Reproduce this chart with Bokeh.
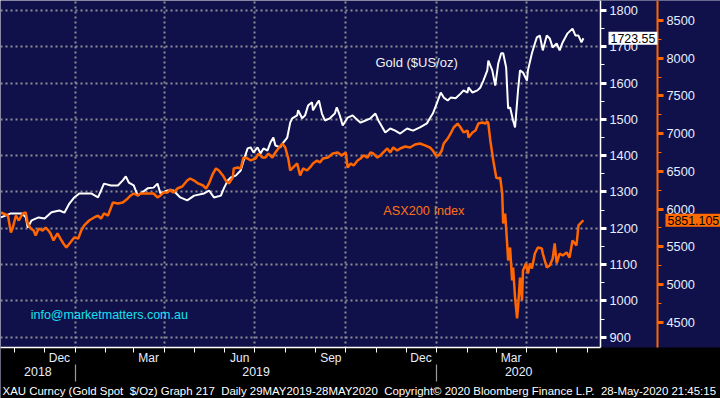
import pandas as pd
from bokeh.plotting import figure
from bokeh.models import (Range1d, LinearAxis, DatetimeAxis, FixedTicker, BoxAnnotation,
                          DatetimeTickFormatter, Grid, Label)
from bokeh.embed import file_html
from bokeh.resources import INLINE

# ---------------- data ----------------
gold_dates = ["2018-10-18","2018-10-28","2018-11-08","2018-11-12","2018-11-14","2018-11-18","2018-11-25","2018-12-01","2018-12-08","2018-12-16",
              "2018-12-21","2018-12-26","2018-12-31","2019-01-05","2019-01-17","2019-01-24","2019-01-30","2019-02-06","2019-02-13","2019-02-18",
              "2019-02-21","2019-02-24","2019-03-01","2019-03-05","2019-03-08","2019-03-15","2019-03-21","2019-03-25","2019-03-28","2019-04-04",
              "2019-04-10","2019-04-17","2019-04-24","2019-05-01","2019-05-11","2019-05-16","2019-05-21","2019-05-28","2019-05-31","2019-06-04",
              "2019-06-07","2019-06-12","2019-06-17","2019-06-20","2019-06-24","2019-06-27","2019-06-30","2019-07-04","2019-07-07","2019-07-10",
              "2019-07-14","2019-07-17","2019-07-20","2019-07-22","2019-07-27","2019-07-30","2019-08-03","2019-08-06","2019-08-08","2019-08-13",
              "2019-08-14","2019-08-18","2019-08-21","2019-08-24","2019-08-28","2019-08-29","2019-09-02","2019-09-04","2019-09-07","2019-09-10",
              "2019-09-15","2019-09-20","2019-09-22","2019-09-25","2019-09-28","2019-10-03","2019-10-08","2019-10-11","2019-10-16","2019-10-21",
              "2019-10-26","2019-10-31","2019-11-03","2019-11-07","2019-11-10","2019-11-15","2019-11-20","2019-11-25","2019-12-02","2019-12-08",
              "2019-12-15","2019-12-22","2019-12-25","2019-12-28","2020-01-01","2020-01-05","2020-01-08","2020-01-12","2020-01-15","2020-01-20",
              "2020-01-25","2020-01-28","2020-02-01","2020-02-02","2020-02-06","2020-02-11","2020-02-14","2020-02-17","2020-02-21","2020-02-22",
              "2020-02-26","2020-02-29","2020-03-03","2020-03-06","2020-03-08","2020-03-11","2020-03-13","2020-03-15","2020-03-18","2020-03-20",
              "2020-03-23","2020-03-25","2020-03-28","2020-04-01","2020-04-02","2020-04-06","2020-04-09","2020-04-11","2020-04-14","2020-04-17",
              "2020-04-21","2020-04-24","2020-04-27","2020-05-01","2020-05-04","2020-05-07","2020-05-12","2020-05-17","2020-05-20","2020-05-23",
              "2020-05-26","2020-05-28"]
gold_values = [1230,1241,1241,1230,1202,1222,1230,1227,1244,1249,
               1243,1268,1285,1296,1296,1285,1323,1318,1318,1332,
               1343,1326,1318,1290,1296,1310,1312,1323,1296,1304,
               1304,1285,1277,1290,1296,1304,1285,1290,1310,1332,
               1340,1345,1359,1387,1420,1423,1409,1423,1406,1420,
               1414,1436,1450,1428,1423,1436,1450,1491,1503,1511,
               1525,1503,1511,1538,1547,1525,1544,1552,1516,1497,
               1503,1516,1533,1511,1483,1505,1511,1503,1491,1497,
               1503,1516,1497,1478,1464,1475,1469,1461,1475,1469,
               1478,1489,1503,1516,1544,1574,1560,1552,1560,1558,
               1571,1580,1574,1588,1574,1580,1588,1607,1635,1662,
               1635,1593,1654,1682,1682,1643,1530,1533,1497,1478,
               1580,1635,1629,1607,1635,1682,1709,1726,1731,1690,
               1731,1723,1698,1709,1690,1712,1737,1750,1731,1731,
               1712,1723.55]

asx_dates = ["2018-10-18","2018-10-25","2018-10-28","2018-10-30","2018-11-02","2018-11-05","2018-11-09","2018-11-12","2018-11-14","2018-11-17",
             "2018-11-20","2018-11-22","2018-11-25","2018-11-29","2018-12-02","2018-12-05","2018-12-07","2018-12-10","2018-12-14","2018-12-17",
             "2018-12-20","2018-12-23","2018-12-27","2018-12-31","2019-01-04","2019-01-07","2019-01-10","2019-01-15","2019-01-20","2019-01-24",
             "2019-01-27","2019-01-30","2019-02-03","2019-02-08","2019-02-13","2019-02-18","2019-02-23","2019-02-26","2019-03-01","2019-03-05",
             "2019-03-08","2019-03-15","2019-03-21","2019-03-25","2019-03-28","2019-03-31","2019-04-04","2019-04-07","2019-04-10","2019-04-14",
             "2019-04-19","2019-04-24","2019-04-27","2019-05-01","2019-05-05","2019-05-10","2019-05-13","2019-05-16","2019-05-20","2019-05-23",
             "2019-05-26","2019-05-30","2019-06-02","2019-06-05","2019-06-09","2019-06-10","2019-06-14","2019-06-17","2019-06-19","2019-06-20",
             "2019-06-24","2019-06-27","2019-07-02","2019-07-05","2019-07-09","2019-07-12","2019-07-15","2019-07-19","2019-07-22","2019-07-25",
             "2019-07-29","2019-08-01","2019-08-04","2019-08-06","2019-08-09","2019-08-13","2019-08-16","2019-08-19","2019-08-23","2019-08-26",
             "2019-08-29","2019-09-02","2019-09-05","2019-09-08","2019-09-13","2019-09-18","2019-09-23","2019-09-27","2019-10-01","2019-10-03",
             "2019-10-06","2019-10-09","2019-10-13","2019-10-16","2019-10-19","2019-10-23","2019-10-26","2019-10-29","2019-11-02","2019-11-05",
             "2019-11-08","2019-11-12","2019-11-15","2019-11-18","2019-11-22","2019-11-25","2019-11-30","2019-12-05","2019-12-10","2019-12-15",
             "2019-12-20","2019-12-25","2019-12-28","2019-12-31","2020-01-03","2020-01-06","2020-01-08","2020-01-12","2020-01-15","2020-01-18",
             "2020-01-22","2020-01-25","2020-01-28","2020-02-01","2020-02-02","2020-02-06","2020-02-09","2020-02-12","2020-02-16","2020-02-19",
             "2020-02-21","2020-02-22","2020-02-24","2020-02-27","2020-03-01","2020-03-03","2020-03-05","2020-03-07","2020-03-08","2020-03-10",
             "2020-03-12","2020-03-13","2020-03-15","2020-03-17","2020-03-18","2020-03-20","2020-03-22","2020-03-23","2020-03-25","2020-03-27",
             "2020-03-28","2020-03-31","2020-04-02","2020-04-04","2020-04-06","2020-04-09","2020-04-12","2020-04-16","2020-04-17","2020-04-21",
             "2020-04-24","2020-04-27","2020-04-29","2020-05-01","2020-05-04","2020-05-07","2020-05-11","2020-05-14","2020-05-17","2020-05-21",
             "2020-05-23","2020-05-28"]
asx_values = [5954,5914,5689,5755,5914,5848,5941,5954,5808,5742,
              5715,5649,5742,5715,5755,5715,5676,5583,5676,5609,
              5543,5490,5556,5623,5609,5715,5782,5848,5888,5914,
              5874,5941,5914,6087,6073,6087,6140,6180,6206,6180,
              6206,6206,6206,6153,6180,6219,6219,6259,6219,6272,
              6299,6378,6405,6378,6339,6312,6272,6339,6471,6538,
              6511,6445,6378,6339,6418,6538,6551,6538,6644,6683,
              6670,6644,6670,6736,6683,6683,6736,6683,6750,6803,
              6869,6816,6670,6511,6551,6604,6445,6538,6511,6551,
              6604,6644,6617,6670,6683,6736,6750,6710,6750,6551,
              6604,6577,6644,6670,6710,6683,6750,6736,6683,6710,
              6750,6803,6750,6816,6776,6803,6829,6816,6856,6869,
              6843,6816,6776,6710,6710,6776,6869,6935,7002,7081,
              7134,7081,7015,7041,6949,7015,7041,7134,7147,7134,
              7161,7134,6909,6644,6418,6405,6418,6206,5808,5941,
              5543,5318,5490,5052,5225,4827,4549,4694,5092,4787,
              5185,5278,5145,5278,5212,5410,5490,5477,5410,5225,
              5251,5344,5543,5278,5410,5384,5424,5357,5583,5517,
              5782,5851.105]

gold_ticks = [900, 1000, 1100, 1200, 1300, 1400, 1500, 1600, 1700, 1800]
gold_minor = [950, 1050, 1150, 1250, 1350, 1450, 1550, 1650, 1750]
asx_ticks = [4500, 5000, 5500, 6000, 6500, 7000, 7500, 8000, 8500]
asx_minor = [4750, 5250, 5750, 6250, 6750, 7250, 7750, 8250]
month_label_dates = ["2018-12-16", "2019-03-16", "2019-06-16", "2019-09-16", "2019-12-16", "2020-03-16"]
quarter_dates = ["2019-01-01", "2019-04-01", "2019-07-01", "2019-10-01", "2020-01-01", "2020-04-01"]
year_bounds = ["2019-01-01", "2020-01-01"]
x_start, x_end = "2018-10-17 12:00", "2020-06-14 06:00"
gold_range = (871.6, 1827.5)
asx_range = (4164, 8765)

gold_name = "Gold ($US/oz)"
asx_name = "ASX200 Index"
watermark = "info@marketmatters.com.au"
footer = ("XAU Curncy (Gold Spot \u00a0$/Oz) Graph 217 \u00a0Daily 29MAY2019-28MAY2020 \u00a0"
          "Copyright\u00a9 2020 Bloomberg Finance L.P. \u00a028-May-2020 21:45:15")


def ms(s):
    return pd.Timestamp(s).value / 1e6


# ---------------- layout / styling ----------------
W, H = 720, 398
DATA_W = 600     # data area width (price axes live to the right of it)
DATA_H = 347     # data area height (date axes and footer live below it)
NAVY = "#10104a"
ORANGE = "#ff6600"
LBL = "#e6eeff"
GRID = "#8e8e96"
FONT = "Liberation Sans"

xs, xe = ms(x_start), ms(x_end)
g_lo, g_hi = gold_range
a_lo, a_hi = asx_range
g_k = (g_hi - g_lo) / DATA_H
a_k = (a_hi - a_lo) / DATA_H


def x_at(px):
    """pixels right of the frame's left edge -> x data coordinate"""
    return xs + px / DATA_W * (xe - xs)


def y_at(px_below):
    """pixels below the data area -> gold-scale data coordinate"""
    return g_lo - px_below * g_k


p = figure(width=W, height=H, output_backend="svg", toolbar_location=None,
           x_axis_type=None, y_axis_type=None,
           x_range=Range1d(xs, x_at(W)),
           y_range=Range1d(y_at(H - DATA_H), g_hi),
           background_fill_color=NAVY, border_fill_color="black",
           min_border_left=0, min_border_top=0, min_border_right=0, min_border_bottom=0,
           outline_line_color=None)
p.extra_y_ranges = {"asx": Range1d(a_lo - (H - DATA_H) * a_k, a_hi)}

# grids
p.add_layout(Grid(dimension=0, ticker=FixedTicker(ticks=[ms(d) for d in quarter_dates]),
                  grid_line_color=GRID, grid_line_dash="2 3", grid_line_width=2))
p.add_layout(Grid(dimension=1, ticker=FixedTicker(ticks=gold_ticks),
                  grid_line_color=GRID, grid_line_dash="2 3", grid_line_width=2))
# navy strip behind the price axes, black strip behind the date axes
p.add_layout(BoxAnnotation(left=x_at(DATA_W), bottom=g_lo, fill_color=NAVY, fill_alpha=1,
                           line_alpha=0, level="underlay"))
p.add_layout(BoxAnnotation(top=g_lo, fill_color="black", fill_alpha=1,
                           line_alpha=0, level="underlay"))

# series
p.line(pd.to_datetime(gold_dates), gold_values, line_color="white", line_width=2)
p.line(pd.to_datetime(asx_dates), asx_values, line_color=ORANGE, line_width=2.5,
       y_range_name="asx")

# price axes, anchored inside the frame
gold_axis = LinearAxis(fixed_location=x_at(DATA_W), bounds=gold_range,
                       ticker=FixedTicker(ticks=gold_ticks, minor_ticks=gold_minor),
                       axis_line_color="white", axis_line_width=1.5,
                       major_tick_in=0, major_tick_out=6, major_tick_line_width=3,
                       major_tick_line_color="white",
                       minor_tick_in=0, minor_tick_out=4, minor_tick_line_color="white",
                       major_label_text_color=LBL, major_label_text_font=FONT,
                       major_label_text_font_size="12.8px", major_label_standoff=3)
p.add_layout(gold_axis, "right")
asx_axis = LinearAxis(y_range_name="asx", fixed_location=x_at(657), bounds=asx_range,
                      ticker=FixedTicker(ticks=asx_ticks, minor_ticks=asx_minor),
                      axis_line_color=ORANGE, axis_line_width=2,
                      major_tick_in=0, major_tick_out=6, major_tick_line_width=3,
                      major_tick_line_color=ORANGE,
                      minor_tick_in=0, minor_tick_out=4, minor_tick_line_color=ORANGE,
                      major_label_text_color=LBL, major_label_text_font=FONT,
                      major_label_text_font_size="12.8px", major_label_standoff=3)
p.add_layout(asx_axis, "right")


def dt_fmt(f):
    return DatetimeTickFormatter(microseconds=f, milliseconds=f, seconds=f, minsec=f,
                                 minutes=f, hourmin=f, hours=f, days=f, months=f, years=f)


month_starts = [ms(d) for d in pd.date_range("2018-11-01", "2020-06-01", freq="MS")]
# date axis line + monthly ticks
p.add_layout(DatetimeAxis(fixed_location=g_lo, bounds=(xs, x_at(DATA_W)),
                          ticker=FixedTicker(ticks=[], minor_ticks=month_starts),
                          axis_line_color="white", axis_line_width=1.5,
                          major_tick_in=0, major_tick_out=0,
                          minor_tick_in=0, minor_tick_out=5, minor_tick_line_color="white"),
             "below")
# month names
p.add_layout(DatetimeAxis(fixed_location=g_lo, bounds=(xs, x_at(DATA_W)),
                          ticker=FixedTicker(ticks=[ms(d) for d in month_label_dates]),
                          formatter=dt_fmt("%b"), axis_line_color=None,
                          major_tick_in=0, major_tick_out=0, minor_tick_in=0, minor_tick_out=0,
                          major_label_standoff=3, major_label_text_color=LBL,
                          major_label_text_font=FONT, major_label_text_font_size="12px"),
             "below")
# year separators
p.add_layout(DatetimeAxis(fixed_location=y_at(17), bounds=(xs, x_at(DATA_W)),
                          ticker=FixedTicker(ticks=[], minor_ticks=[ms(d) for d in year_bounds]),
                          axis_line_color=None, major_tick_in=0, major_tick_out=0,
                          minor_tick_in=0, minor_tick_out=17,
                          minor_tick_line_color="#9a9a9a", minor_tick_line_width=1.2),
             "below")
# year names, centred on the visible part of each year
edges = [xs] + [ms(d) for d in year_bounds] + [xe]
year_centers = [(a + b) / 2 for a, b in zip(edges[:-1], edges[1:])]
p.add_layout(DatetimeAxis(fixed_location=y_at(19), bounds=(xs, x_at(DATA_W)),
                          ticker=FixedTicker(ticks=year_centers), formatter=dt_fmt("%Y"),
                          axis_line_color=None, major_tick_in=0, major_tick_out=0,
                          minor_tick_in=0, minor_tick_out=0,
                          major_label_standoff=0, major_label_text_color=LBL,
                          major_label_text_font=FONT, major_label_text_font_size="12.4px"),
             "below")

# footer line
p.add_layout(Label(x=x_at(2), y=y_at(43), text=footer, text_color="white",
                   text_font=FONT, text_font_size="11.45px", text_baseline="middle"))

# annotations inside the chart
p.add_layout(Label(x=ms("2019-10-31"), y=1657, text=gold_name, text_color="#f2f2f2",
                   text_font=FONT, text_font_size="13px", text_baseline="middle"))
p.add_layout(Label(x=ms("2019-11-08"), y=5980, y_range_name="asx", text=asx_name,
                   text_color="#ff7316", text_font=FONT, text_font_size="12.7px",
                   text_baseline="middle"))
p.add_layout(Label(x=ms("2018-11-17"), y=962, text=watermark, text_color="#18e0f0",
                   text_font=FONT, text_font_size="12.5px", text_baseline="middle"))

# last-value tags
pad = dict(padding=2) if "padding" in Label.properties() else {}
p.add_layout(Label(x=x_at(608), y=gold_values[-1], text=f"{gold_values[-1]:.2f}",
                   text_color="black", background_fill_color="white", text_font=FONT,
                   text_font_size="12.4px", text_baseline="middle", **pad))
p.add_layout(Label(x=x_at(665), y=asx_values[-1], y_range_name="asx",
                   text=f"{asx_values[-1]:.3f}", text_color="black",
                   background_fill_color="#ff6a00", text_font=FONT,
                   text_font_size="12.4px", text_baseline="middle", **pad))

open("out.html", "w").write(file_html(p, INLINE))
